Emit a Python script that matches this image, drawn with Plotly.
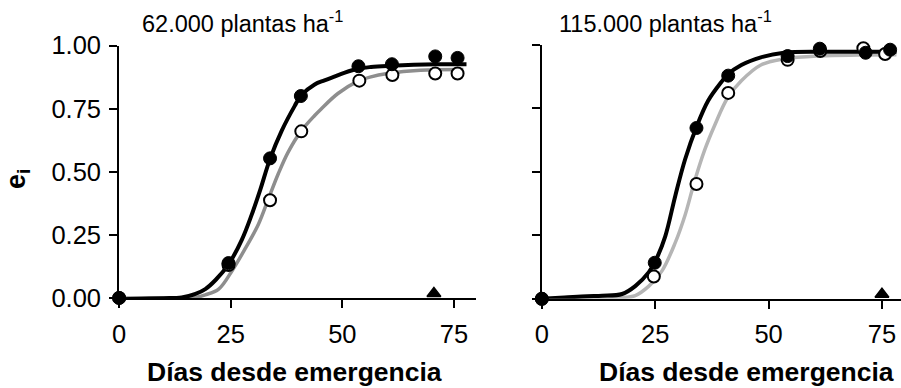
import plotly.graph_objects as go

# ---------------- data ----------------
# Left panel: 62.000 plantas ha-1
left_filled_x = [0, 24.5, 33.8, 40.7, 53.6, 61.1, 70.8, 75.8]
left_filled_y = [0, 0.138, 0.553, 0.80, 0.918, 0.926, 0.957, 0.951]
left_open_x = [0, 24.5, 33.8, 40.8, 53.8, 61.2, 70.8, 75.8]
left_open_y = [0, 0.13, 0.387, 0.66, 0.861, 0.883, 0.889, 0.889]

left_black_x = [0, 5, 10, 14, 17.1, 19.3, 21.6, 24.5, 27.5, 29.7, 31.6, 33.8, 36.4, 39.3,
                40.8, 43.8, 46.0, 48.2, 50.4, 53.4, 56.4, 60.8, 66, 71.2, 77.8]
left_black_y = [-0.005, -0.003, -0.001, 0.002, 0.016, 0.035, 0.071, 0.133, 0.231, 0.33, 0.428,
                0.551, 0.662, 0.76, 0.803, 0.846, 0.862, 0.877, 0.892, 0.908, 0.915, 0.92,
                0.924, 0.926, 0.926]
left_gray_x = [0, 5, 10, 15, 17.1, 19.3, 22.3, 25.3, 28.2, 31.2, 33.4, 35.6, 37.8, 40.8,
               43.8, 45.2, 49, 53.4, 56.4, 60.1, 67.5, 77.1]
left_gray_y = [0, 0, 0, 0, 0.002, 0.012, 0.035, 0.108, 0.194, 0.292, 0.391, 0.49, 0.576,
               0.662, 0.723, 0.748, 0.81, 0.858, 0.876, 0.889, 0.902, 0.905]

# Right panel: 115.000 plantas ha-1
right_filled_x = [0, 24.9, 34.1, 41.1, 54.2, 61.3, 71.4, 76.8]
right_filled_y = [0, 0.142, 0.672, 0.878, 0.955, 0.984, 0.968, 0.98]
right_open_x = [0, 24.7, 34.1, 41.1, 54.2, 61.4, 70.9, 75.7]
right_open_y = [0, 0.088, 0.452, 0.81, 0.94, 0.975, 0.986, 0.963]

right_black_x = [0, 5, 10, 13.3, 17.7, 20.6, 23.6, 25, 27.2, 29.4, 31.6, 34.1, 36.7, 39.6,
                 41, 44, 48.3, 53.4, 61.4, 70.9, 78.2]
right_black_y = [0, 0.005, 0.01, 0.012, 0.019, 0.05, 0.105, 0.147, 0.245, 0.403, 0.549,
                 0.676, 0.78, 0.853, 0.883, 0.92, 0.95, 0.968, 0.972, 0.972, 0.972]
right_gray_x = [0, 10, 17, 20.6, 23.6, 26.5, 29.4, 31.6, 33.7, 35.9, 38.1, 41, 44, 48.3,
                53.4, 61.4, 70, 78.2]
right_gray_y = [0, 0.002, 0.005, 0.013, 0.05, 0.11, 0.22, 0.33, 0.464, 0.585, 0.682, 0.792,
                0.858, 0.92, 0.944, 0.956, 0.959, 0.96]

flag_left_x = [70.5]
flag_right_x = [75]
flag_y = [0.018]

x_ticks = [0, 25, 50, 75]
y_ticks = [0, 0.25, 0.5, 0.75, 1.0]
panel_titles = ["62.000 plantas ha<sup>-1</sup>", "115.000 plantas ha<sup>-1</sup>"]
x_title = "Días desde emergencia"
y_title = "e<sub>i</sub>"

FONT = "Liberation Sans, Arial, sans-serif"

fig = go.Figure()


def add_panel(xa, ya, bx, by, gx, gy, gcol, ox, oy, fx, fy, tx):
    fig.add_trace(go.Scatter(x=gx, y=gy, mode="lines", line=dict(color=gcol, width=3.5, shape="spline"),
                             xaxis=xa, yaxis=ya, cliponaxis=False, showlegend=False))
    fig.add_trace(go.Scatter(x=bx, y=by, mode="lines", line=dict(color="black", width=4, shape="spline"),
                             xaxis=xa, yaxis=ya, cliponaxis=False, showlegend=False))
    fig.add_trace(go.Scatter(x=ox, y=oy, mode="markers",
                             marker=dict(size=12, color="white", line=dict(color="black", width=2)),
                             xaxis=xa, yaxis=ya, cliponaxis=False, showlegend=False))
    fig.add_trace(go.Scatter(x=fx, y=fy, mode="markers",
                             marker=dict(size=13, color="black", line=dict(color="black", width=1)),
                             xaxis=xa, yaxis=ya, cliponaxis=False, showlegend=False))
    fig.add_trace(go.Scatter(x=tx, y=flag_y, mode="markers",
                             marker=dict(size=12, symbol="triangle-up", color="black",
                                         line=dict(color="black", width=1.5)),
                             xaxis=xa, yaxis=ya, cliponaxis=False, showlegend=False))


add_panel("x", "y", left_black_x, left_black_y, left_gray_x, left_gray_y, "#8e8e8e",
          left_open_x, left_open_y, left_filled_x, left_filled_y, flag_left_x)
add_panel("x2", "y2", right_black_x, right_black_y, right_gray_x, right_gray_y, "#b5b5b5",
          right_open_x, right_open_y, right_filled_x, right_filled_y, flag_right_x)

W, H = 901, 388

axis_common = dict(showline=True, linecolor="black", linewidth=2, ticks="outside", ticklen=8,
                   tickwidth=2, tickcolor="black", showgrid=False, zeroline=False,
                   tickfont=dict(family=FONT, size=25.5, color="black"))

fig.update_layout(
    width=W, height=H, margin=dict(l=0, r=0, t=0, b=0),
    paper_bgcolor="white", plot_bgcolor="white",
    xaxis=dict(domain=[113 / W, 473 / W], range=[0, 80], tickvals=x_ticks, anchor="y",
               ticklabelstandoff=4, **axis_common),
    yaxis=dict(domain=[(H - 306) / H, (H - 34) / H], range=[0, 1], tickvals=y_ticks,
               tickformat=".2f", anchor="x", ticklabelstandoff=3, **axis_common),
    xaxis2=dict(domain=[539 / W, 1.0], range=[0, 79.2], tickvals=x_ticks, anchor="y2",
                ticklabelstandoff=4, **axis_common),
    yaxis2=dict(domain=[(H - 307) / H, (H - 33) / H], range=[0, 1], tickvals=y_ticks,
                showticklabels=False, anchor="x2", **axis_common),
)

ann = []
ann.append(dict(text=panel_titles[0], x=134 / W, y=1 - 9 / H, xref="paper", yref="paper",
                xanchor="left", yanchor="middle", showarrow=False,
                font=dict(family=FONT, size=23.5, color="black")))
ann.append(dict(text=panel_titles[1], x=554 / W, y=1 - 9 / H, xref="paper", yref="paper",
                xanchor="left", yanchor="middle", showarrow=False,
                font=dict(family=FONT, size=23.5, color="black")))
for cx in (290, 745):
    ann.append(dict(text="<b>" + x_title + "</b>", x=cx / W, y=1 - 386 / H, xref="paper", yref="paper",
                    xanchor="center", yanchor="middle", showarrow=False,
                    font=dict(family=FONT, size=26.5, color="black")))
ann.append(dict(text="<b>" + y_title + "</b>", x=11 / W, y=1 - 178 / H, xref="paper", yref="paper",
                xanchor="center", yanchor="middle", showarrow=False, textangle=-90,
                font=dict(family=FONT, size=27, color="black")))
fig.update_layout(annotations=ann)

fig.write_html("out.html")
